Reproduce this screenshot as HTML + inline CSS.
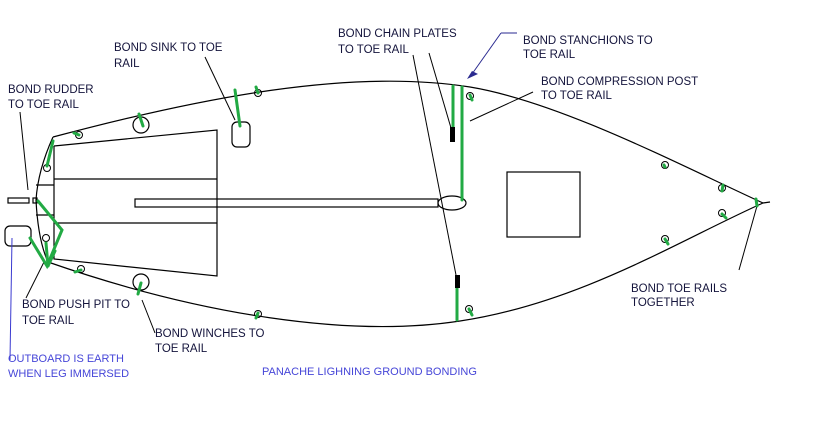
<!DOCTYPE html>
<html><head><meta charset="utf-8"><style>
html,body{margin:0;padding:0;background:#fff;}
svg{display:block}
text{font-family:"Liberation Sans",sans-serif;font-size:11.5px;fill:#14143c}
.b{fill:#4646d8;font-size:11px}
</style></head><body>
<svg width="817" height="425" viewBox="0 0 817 425" xmlns="http://www.w3.org/2000/svg">
<g fill="none" stroke="#000" stroke-width="1.2">
<!-- hull -->
<path d="M53,137 C200,98 350,68 470,87 C560,102 680,165 763,203"/>
<path d="M48,262 C200,315 350,338 460,321 C580,303 680,240 763,203"/>
<path d="M53,137 Q38,170 36,200 Q38,240 48,262"/>
<path d="M763,203 L770,202"/>
<!-- cockpit -->
<polyline points="54,146 217,130 217,276 54,259 54,146"/>
<line x1="54" y1="179" x2="217" y2="179"/>
<line x1="54" y1="223" x2="217" y2="223"/>
<line x1="36" y1="185" x2="54" y2="185"/>
<line x1="36" y1="215" x2="54" y2="215"/>
<!-- tiller -->
<rect x="135" y="199" width="303" height="8"/>
<ellipse cx="452" cy="203" rx="14" ry="7"/>
<rect x="8" y="198" width="21" height="5"/>
<rect x="33" y="198" width="4" height="5"/>
<rect x="5" y="226" width="26" height="20" rx="5"/>
<rect x="232" y="122" width="18" height="25" rx="5"/>
<rect x="507" y="172" width="73" height="65"/>
<!-- circles -->
<circle cx="141" cy="125" r="8"/><circle cx="141" cy="282" r="8"/>
<g stroke-width="1">
<circle cx="79" cy="135" r="3.5"/><circle cx="258" cy="93" r="3.5"/><circle cx="470" cy="96" r="3.5"/>
<circle cx="665" cy="165" r="3.5"/><circle cx="722" cy="188" r="3.5"/><circle cx="722" cy="213" r="3.5"/>
<circle cx="665" cy="239" r="3.5"/><circle cx="469" cy="309" r="3.5"/><circle cx="258" cy="314" r="3.5"/>
<circle cx="81" cy="269" r="3.5"/><circle cx="46" cy="238" r="3.5"/><circle cx="47" cy="168" r="3.5"/>
</g>
<!-- pointer lines -->
<g stroke-width="1">
<line x1="20" y1="112" x2="28" y2="190"/>
<line x1="205" y1="57" x2="235" y2="120"/>
<line x1="413" y1="55" x2="456" y2="275"/>
<line x1="429" y1="53" x2="451" y2="128"/>
<line x1="533" y1="92" x2="470" y2="121"/>
<line x1="26" y1="298" x2="44" y2="262"/>
<line x1="155" y1="333" x2="142" y2="300"/>
<line x1="739" y1="270" x2="757" y2="206"/>
<line stroke="#2a2a90" x1="517" y1="33" x2="501" y2="33"/>
<line stroke="#2a2a90" x1="501" y1="33" x2="472" y2="74"/>
<line stroke="#3a3ad0" x1="10" y1="360" x2="12" y2="238"/>
</g>
</g>
<polygon points="467,79 478,74 472,71" fill="#2a2a90"/>
<!-- green bonds -->
<g stroke="#22aa44" stroke-width="3" fill="none" stroke-linecap="round">
<line x1="453" y1="86" x2="453" y2="127"/>
<line x1="462" y1="87" x2="462" y2="200"/>
<line x1="457" y1="288" x2="457" y2="320"/>
<line x1="470" y1="95" x2="472" y2="100"/>
<line x1="469" y1="309" x2="472" y2="315"/>
<line x1="235" y1="90" x2="240" y2="126"/>
<line x1="256" y1="87" x2="258" y2="93"/>
<line x1="139" y1="114" x2="143" y2="126"/>
<line x1="79" y1="135" x2="74" y2="133"/>
<line x1="53" y1="141" x2="47" y2="166"/>
<polyline points="38,201 62,230 47,266 30,238"/>
<line x1="46" y1="243" x2="48" y2="266"/>
<line x1="48" y1="266" x2="55" y2="251"/>
<line x1="81" y1="270" x2="75" y2="272"/>
<line x1="141" y1="283" x2="138" y2="294"/>
<line x1="258" y1="313" x2="256" y2="318"/>
<line x1="664" y1="165" x2="665" y2="167"/>
<line x1="723" y1="185" x2="722" y2="191"/>
<line x1="722" y1="214" x2="726" y2="218"/>
<line x1="665" y1="239" x2="668" y2="244"/>
<line x1="756" y1="199" x2="757" y2="206"/>
</g>
<rect x="450" y="127" width="5" height="15" fill="#000"/>
<rect x="455" y="275" width="5" height="13" fill="#000"/>
<!-- labels -->
<text x="8" y="93">BOND RUDDER</text><text x="8" y="108">TO TOE RAIL</text>
<text x="114" y="51">BOND SINK TO TOE</text><text x="114" y="67">RAIL</text>
<text x="338" y="37">BOND CHAIN PLATES</text><text x="338" y="53">TO TOE RAIL</text>
<text x="523" y="44">BOND STANCHIONS TO</text><text x="523" y="58">TOE RAIL</text>
<text x="541" y="85">BOND COMPRESSION POST</text><text x="541" y="99">TO TOE RAIL</text>
<text x="631" y="292">BOND TOE RAILS</text><text x="631" y="306">TOGETHER</text>
<text x="22" y="308">BOND PUSH PIT TO</text><text x="22" y="324">TOE RAIL</text>
<text x="155" y="337">BOND WINCHES TO</text><text x="155" y="352">TOE RAIL</text>
<text class="b" x="8" y="362">OUTBOARD IS EARTH</text><text class="b" x="8" y="377">WHEN LEG IMMERSED</text>
<text class="b" x="262" y="375">PANACHE LIGHNING GROUND BONDING</text>
</svg>
</body></html>
